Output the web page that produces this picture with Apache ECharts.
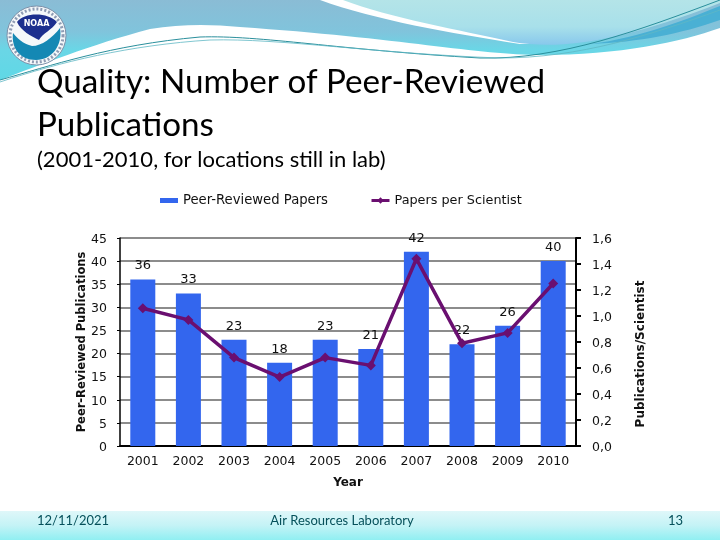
<!DOCTYPE html>
<html><head><meta charset="utf-8">
<style>html,body{margin:0;padding:0;background:#fff}#c{width:720px;height:540px}</style>
<script src="https://cdn.jsdelivr.net/npm/echarts@6/dist/echarts.min.js"></script>
</head><body><div id="c"></div>
<script>
const years = ['2001','2002','2003','2004','2005','2006','2007','2008','2009','2010'];
const papers = [36,33,23,18,23,21,42,22,26,40];
const perScientist = [1.06,0.97,0.68,0.53,0.68,0.62,1.44,0.79,0.87,1.25];
const titleLines = 'Quality: Number of Peer-Reviewed\nPublications';
const subtitle = '(2001-2010, for locations still in lab)';
const footer = ['12/11/2021','Air Resources Laboratory','13'];

const chartFont = 'DejaVu Sans';
const slideFont = 'Lato';
const lg = (x0,y0,x1,y1,stops)=>new echarts.graphic.LinearGradient(x0,y0,x1,y1,stops.map(s=>({offset:s[0],color:s[1]})));
let pathCount = 0;
function pathEl(d, style, z){
  const name = 'deco' + (pathCount++);
  echarts.graphic.registerShape(name, echarts.graphic.extendPath(d, {}));
  return {type:name, silent:true, z:z, shape:{}, style:style};
}

const chart = echarts.init(document.getElementById('c'),null,{renderer:'canvas'});
chart.setOption({
  animation:false,
  backgroundColor:'#ffffff',
  textStyle:{fontFamily:chartFont},
  title:[
    {text:titleLines,left:32,top:56,textStyle:{fontFamily:slideFont,fontSize:33.2,fontWeight:'normal',color:'#000',lineHeight:43}},
    {text:subtitle,left:32,top:142,textStyle:{fontFamily:slideFont,fontSize:22,fontWeight:'normal',color:'#000',lineHeight:26}}
  ],
  legend:[
    {data:[{name:'Peer-Reviewed Papers',icon:'rect'}],left:155,top:189,itemWidth:18,itemHeight:5,itemGap:5,textStyle:{fontFamily:chartFont,fontSize:13.2,color:'#111'}},
    {data:['Papers per Scientist'],left:365,top:189,itemWidth:18,itemHeight:8,itemGap:3,lineStyle:{width:3},textStyle:{fontFamily:chartFont,fontSize:12.8,color:'#111'}}
  ],
  grid:{left:120,right:144,top:238,bottom:94},
  xAxis:{type:'category',data:years,
    name:'Year',nameLocation:'middle',nameGap:31,nameTextStyle:{fontFamily:chartFont,fontSize:12,color:'#111',fontWeight:'bold'},
    axisLine:{lineStyle:{color:'#000',width:2}},axisTick:{show:false},
    axisLabel:{margin:9,fontFamily:chartFont,fontSize:12.5,color:'#111'}},
  yAxis:[
    {type:'value',min:0,max:45,interval:5,
      name:'Peer-Reviewed Publications',nameLocation:'middle',nameGap:32,nameRotate:90,nameMoveOverlap:false,
      nameTextStyle:{fontFamily:chartFont,fontSize:11.5,fontWeight:'bold',color:'#111'},
      axisLine:{show:true,lineStyle:{color:'#000',width:1.5}},axisTick:{show:true,length:3,lineStyle:{color:'#000'}},
      axisLabel:{margin:13,fontFamily:chartFont,fontSize:12.5,color:'#111',verticalAlign:'top',padding:[-5,0,0,0]},
      splitLine:{show:true,lineStyle:{color:'#8c8c8c',width:2}}},
    {type:'value',min:0,max:1.6,interval:0.2,position:'right',
      name:'Publications/Scientist',nameLocation:'middle',nameGap:59,nameRotate:90,nameMoveOverlap:false,
      nameTextStyle:{fontFamily:chartFont,fontSize:12,fontWeight:'bold',color:'#111',padding:[0,24,0,0]},
      axisLine:{show:true,lineStyle:{color:'#000',width:2}},axisTick:{show:true,length:5,lineStyle:{color:'#000',width:2}},
      axisLabel:{margin:16,fontFamily:chartFont,fontSize:12.5,color:'#111',verticalAlign:'top',padding:[-5,0,0,0],formatter:v=>v.toFixed(1).replace('.',',')},
      splitLine:{show:false}}
  ],
  series:[
    {name:'Peer-Reviewed Papers',type:'bar',data:papers,barWidth:25,yAxisIndex:0,
      itemStyle:{color:'#3366ee'},
      label:{show:true,position:'top',distance:7,fontFamily:chartFont,fontSize:13,color:'#111'}},
    {name:'Papers per Scientist',type:'line',data:perScientist,yAxisIndex:1,
      lineStyle:{color:'#6a0f70',width:3.5},itemStyle:{color:'#6a0f70'},
      symbol:'diamond',symbolSize:10,z:5}
  ],
  graphic:{elements:[
    pathEl('M0,0 L720,0 L720,28 C680,42 620,55 540,55 C480,55 400,38 240,27 C210,24 180,24 150,29 C90,45 40,65 0,80 Z',
      {fill:lg(0,0,0,1,[[0,'#8abcd5'],[0.4,'#80c4dc'],[0.62,'#6ad6e6'],[1,'#5fd8e6']])},-5),
    pathEl('M590,44 C640,38 690,18 720,6 L720,20 C680,34 640,42 590,44 Z',{fill:'#4ab0d4'},-4),
    pathEl('M320,0 C375,20 450,33 520,44 L545,44 L345,0 Z',{fill:'#ffffff'},-3),
    pathEl('M343,0 C390,18 460,30 513,42 C560,50 620,42 720,3 L720,0 Z',
      {fill:lg(0,0,0,1,[[0,'#b4e4e8'],[0.6,'#a8e0ea'],[1,'#88c8ec']])},-2),
    pathEl('M0,80 C50,66 110,45 200,37 C260,35 340,50 480,58 C560,60 640,30 720,0',
      {fill:'none',stroke:'#2a8f9c',lineWidth:1},-1),
    pathEl('M0,82 C60,62 130,45 210,40 C280,38 380,54 500,58 C580,58 650,35 720,10',
      {fill:'none',stroke:'#5fb7c4',lineWidth:0.8},-1),
    {type:'rect',silent:true,z:-5,shape:{x:0,y:511,width:720,height:29},style:{fill:lg(0,0,0,1,[[0,'#dff7f9'],[0.5,'#c4f3f6'],[1,'#90eff2']])}},
    {type:'text',silent:true,style:{x:37,y:521,text:footer[0],verticalAlign:'middle',font:'13px Lato',fill:'#05505a'}},
    {type:'text',silent:true,style:{x:342,y:521,text:footer[1],align:'center',verticalAlign:'middle',font:'13px Lato',fill:'#05505a'}},
    {type:'text',silent:true,style:{x:683,y:521,text:footer[2],align:'right',verticalAlign:'middle',font:'13px Lato',fill:'#05505a'}},
    {type:'circle',silent:true,z:1,shape:{cx:36.5,cy:35.5,r:29.5},style:{fill:'#f4f8fa',stroke:'#7d8fa8',lineWidth:1}},
    {type:'circle',silent:true,z:1,shape:{cx:36.5,cy:35.5,r:26.5},style:{fill:'none',stroke:'#8f9cb4',lineWidth:3,lineDash:[2,2]}},
    pathEl('M17,22 C24,12 48,12 57,22 C52,30 43,33 39,40 C31,36 21,31 17,22 Z',{fill:'#1c2f8e'},2),
    pathEl('M13,33 C20,42 26,44 32,46 C42,46 52,38 60,28 C63,45 52,60 36,60 C20,60 11,48 13,33 Z',{fill:'#1488b4'},2),
    {type:'text',silent:true,z:4,style:{x:36.5,y:24,text:'NOAA',align:'center',verticalAlign:'middle',font:'bold 8px "DejaVu Sans"',fill:'#ffffff'}}
  ]}
});
</script></body></html>
